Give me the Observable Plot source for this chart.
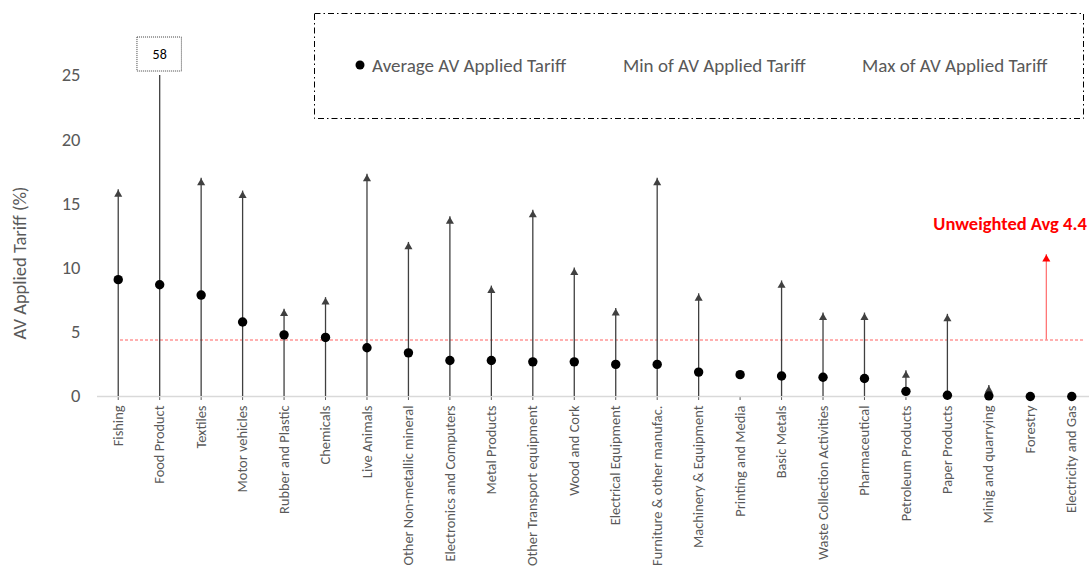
<!DOCTYPE html>
<html><head><meta charset="utf-8">
<script src="https://cdn.jsdelivr.net/npm/d3@7"></script>
<script src="https://cdn.jsdelivr.net/npm/@observablehq/plot@0.6"></script>
<style>
body{margin:0;background:#fff;font-family:Carlito, Lato, sans-serif;}
#wrap{position:relative;width:1089px;height:571px;}
#legend{position:absolute;left:314px;top:13px;}
</style></head><body><div id="wrap"><div id="chart"></div><div id="legend"></div></div>
<script>
const categories = ["Fishing","Food Product","Textiles","Motor vehicles","Rubber and Plastic","Chemicals","Live Animals","Other Non-metallic mineral","Electronics and Computers","Metal Products","Other Transport equipment","Wood and Cork","Electrical Equipment","Furniture & other manufac.","Machinery & Equipment","Printing and Media","Basic Metals","Waste Collection Activities","Pharmaceutical","Petroleum Products","Paper Products","Minig and quarrying","Forestry","Electricity and Gas"];
const avgValues = [9.1,8.7,7.9,5.8,4.8,4.6,3.8,3.4,2.8,2.8,2.7,2.7,2.5,2.5,1.9,1.7,1.6,1.5,1.4,0.4,0.1,0.05,0.0,0.0];
const minValues = [0,0,0,0,0,0,0,0,0,0,0,0,0,0,0,0,0,0,0,0,0,0,0,0];
const maxValues = [16.1,58,17.0,16.0,6.8,7.7,17.3,12.0,14.0,8.6,14.5,10.0,6.85,17.0,8.0,null,9.0,6.5,6.5,2.0,6.4,0.85,null,null];
const yTicks = [0,5,10,15,20,25];
const yMax = 25;
const unweightedAvg = 4.4;
const annotationArrowTop = [11.05];
const annotationLabelY = [13.4];
const yTitleAt = [10.4];
const legendItems = ["Average AV Applied Tariff","Min of AV Applied Tariff","Max of AV Applied Tariff"];

const data = categories.map((c,i)=>({cat:c, avg:avgValues[i], min:minValues[i], max:maxValues[i]}));
const withMax = data.filter(d=>d.max!=null);
const clipped = data.filter(d=>d.max!=null && d.max>yMax);
const font = "Carlito, Lato, sans-serif";

const chart = Plot.plot({
  width:1089, height:571,
  marginLeft:97, marginRight:0, marginTop:75, marginBottom:175,
  style:{fontFamily:font, color:"#595959", background:"white"},
  x:{type:"band", domain:categories, range:[97,1092], padding:0, round:false},
  y:{domain:[0,yMax]},
  marks:[
    Plot.axisY({ticks:yTicks, tickSize:0, tickPadding:17, label:null, fontSize:18.5}),
    Plot.axisX({tickRotate:-90, tickSize:4, tickPadding:5, label:null, fontSize:14.4, stroke:"#595959"}),
    Plot.ruleY([0], {stroke:"#d9d9d9", strokeWidth:1.5}),
    Plot.ruleY([unweightedAvg], {stroke:"#ff6060", strokeWidth:1, strokeDasharray:"3,2", insetLeft:23, insetRight:4}),
    Plot.ruleX(withMax, {x:"cat", y1:"min", y2:"max", stroke:"#404040", strokeWidth:1.3, clip:true}),
    Plot.dot(withMax.filter(d=>d.max<=yMax), {x:"cat", y:"max", symbol:"triangle", r:3, fill:"#404040", dy:4.6}),
    Plot.dot(data, {x:"cat", y:"avg", r:4.7, fill:"black"}),
    // annotation arrow
    Plot.ruleX(annotationArrowTop, {x:()=>"Forestry", y1:()=>unweightedAvg, y2:d=>d, dx:16, stroke:"#ff6a6a", strokeWidth:1.2}),
    Plot.dot(annotationArrowTop, {x:()=>"Forestry", y:d=>d, dx:16, dy:4.6, symbol:"triangle", r:3, fill:"#ff0000"}),
    Plot.text(annotationLabelY, {x:()=>"Electricity and Gas", y:d=>d, dx:15, text:()=>"Unweighted Avg " + unweightedAvg, textAnchor:"end", fill:"#ff0000", fontWeight:"bold", fontSize:18.5}),
    // clipped value label
    Plot.barY(clipped, {x:"cat", y1:()=>yMax, y2:()=>yMax, insetTop:-34, insetLeft:-1.5, insetRight:-1.5, dy:-4, fill:"white", stroke:"#404040", strokeDasharray:"1,1"}),
    Plot.text(clipped, {x:"cat", y:()=>yMax, text:d=>String(d.max), dy:-21, fill:"black", fontSize:14}),
    // y title
    Plot.text(yTitleAt, {x:()=>"Fishing", y:d=>d, dx:-98, rotate:-90, text:()=>"AV Applied Tariff (%)", fontSize:18.5, fill:"#595959"})
  ]
});
document.getElementById("chart").appendChild(chart);

// legend
const lsvg = d3.select("#legend").append("svg").attr("width",771).attr("height",107);
lsvg.append("rect").attr("x",0.5).attr("y",0.5).attr("width",769).attr("height",105)
  .attr("fill","white").attr("stroke","black").attr("stroke-dasharray","6,3,1.5,3");
const lx = [58,309,548];
lsvg.append("circle").attr("cx",46).attr("cy",52).attr("r",4.5).attr("fill","black");
lsvg.selectAll("text.l").data(legendItems).join("text")
  .attr("x",(d,i)=>lx[i]).attr("y",52).attr("dy","0.35em")
  .attr("font-family",font).attr("font-size",19).attr("fill","#595959").text(d=>d);
</script></body></html>
